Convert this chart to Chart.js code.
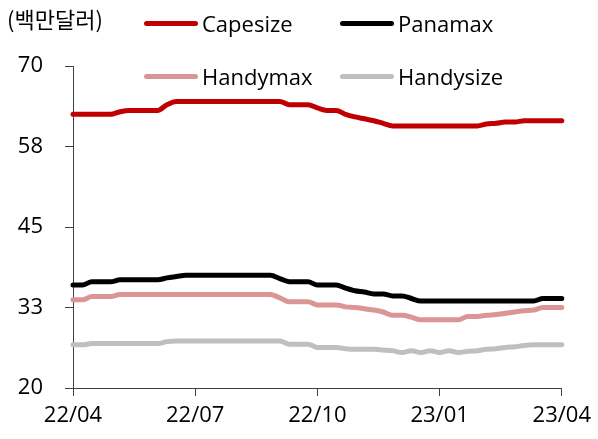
<!DOCTYPE html>
<html>
<head>
<meta charset="utf-8">
<script src="https://cdn.jsdelivr.net/npm/chart.js@4"></script>
<style>
  html, body { margin: 0; padding: 0; background: #fff; }
  #wrap { position: relative; width: 598px; height: 439px; font-family: 'Open Sans', 'Noto Sans CJK KR', sans-serif; color: #000; }
  #unit { position: absolute; left: 7px; top: 5px; font-size: 22px; line-height: 26px; font-family: 'Noto Sans CJK KR', sans-serif; }
  .lg { position: absolute; height: 26px; font-size: 22px; line-height: 26px; white-space: nowrap; }
  .lg .sw { position: absolute; left: 0; top: 11px; width: 54px; height: 5px; border-radius: 3px; }
  .lg .tx { position: absolute; left: 58px; top: 0; }
</style>
</head>
<body>
<div id="wrap">
  <canvas id="c" width="598" height="439"></canvas>
  <div id="unit">(백만달러)</div>
</div>
<script>
// weekly points, 22/04 .. 23/04 (index 0..52)
var tickLabels = ['22/04', '22/07', '22/10', '23/01', '23/04'];
var seriesNames = ['Capesize', 'Panamax', 'Handymax', 'Handysize'];
var seriesColors = ['#c00000', '#000000', '#da9694', '#bfbfbf'];

var capesize = [62.5, 62.5, 62.5, 62.5, 62.5, 62.9, 63.1, 63.1, 63.1, 63.1,
    64.0, 64.5, 64.5, 64.5, 64.5, 64.5, 64.5, 64.5, 64.5, 64.5,
    64.5, 64.5, 64.5, 64.0, 64.0, 64.0, 63.5, 63.1, 63.1, 62.5,
    62.1, 61.8, 61.5, 61.1, 60.7, 60.7, 60.7, 60.7, 60.7, 60.7,
    60.7, 60.7, 60.7, 60.7, 61.0, 61.1, 61.3, 61.3, 61.5, 61.5,
    61.5, 61.5, 61.5];
var panamax = [36.0, 36.0, 36.5, 36.5, 36.5, 36.8, 36.8, 36.8, 36.8, 36.8,
    37.1, 37.3, 37.5, 37.5, 37.5, 37.5, 37.5, 37.5, 37.5, 37.5,
    37.5, 37.5, 37.0, 36.5, 36.5, 36.5, 36.0, 36.0, 36.0, 35.5,
    35.1, 34.9, 34.6, 34.6, 34.3, 34.3, 33.9, 33.5, 33.5, 33.5,
    33.5, 33.5, 33.5, 33.5, 33.5, 33.5, 33.5, 33.5, 33.5, 33.5,
    33.9, 33.9, 33.9];
var handymax = [33.7, 33.7, 34.2, 34.2, 34.2, 34.5, 34.5, 34.5, 34.5, 34.5,
    34.5, 34.5, 34.5, 34.5, 34.5, 34.5, 34.5, 34.5, 34.5, 34.5,
    34.5, 34.5, 34.0, 33.4, 33.4, 33.4, 32.9, 32.9, 32.9, 32.6,
    32.5, 32.3, 32.1, 31.8, 31.3, 31.3, 31.0, 30.6, 30.6, 30.6,
    30.6, 30.6, 31.1, 31.1, 31.3, 31.4, 31.6, 31.8, 32.0, 32.1,
    32.5, 32.5, 32.5];
var handysize = [26.7, 26.7, 26.9, 26.9, 26.9, 26.9, 26.9, 26.9, 26.9, 26.9,
    27.2, 27.3, 27.3, 27.3, 27.3, 27.3, 27.3, 27.3, 27.3, 27.3,
    27.3, 27.3, 27.3, 26.8, 26.8, 26.8, 26.3, 26.3, 26.3, 26.1,
    26.0, 26.0, 26.0, 25.9, 25.8, 25.5, 25.8, 25.5, 25.8, 25.5,
    25.8, 25.5, 25.7, 25.8, 26.0, 26.1, 26.3, 26.4, 26.6, 26.7,
    26.7, 26.7, 26.7];

var seriesValues = [capesize, panamax, handymax, handysize];

// legend spots (left, top) for each series
var legendPos = [[144, 10], [340, 10], [144, 63], [340, 63]];

var wrap = document.getElementById('wrap');
seriesNames.forEach(function (name, i) {
    var d = document.createElement('div');
    d.className = 'lg';
    d.style.left = legendPos[i][0] + 'px';
    d.style.top = legendPos[i][1] + 'px';
    d.innerHTML = '<span class="sw" style="background:' + seriesColors[i] + '"></span><span class="tx">' + name + '</span>';
    wrap.appendChild(d);
});

var axisColor = '#404040';
var tickFont = { family: "'Open Sans', sans-serif", size: 22 };

new Chart(document.getElementById('c'), {
    type: 'line',
    data: {
        datasets: seriesNames.map(function (name, i) {
            return {
                label: name,
                data: seriesValues[i].map(function (v, k) { return { x: k, y: v }; }),
                borderColor: seriesColors[i],
                borderWidth: 5,
                borderCapStyle: 'round',
                borderJoinStyle: 'round',
                pointRadius: 0,
                cubicInterpolationMode: 'monotone',
                fill: false,
                clip: false
            };
        })
    },
    options: {
        responsive: false,
        animation: false,
        events: [],
        layout: { padding: { top: 66, right: 34, left: 0, bottom: 0 } },
        plugins: { legend: { display: false }, tooltip: { enabled: false } },
        scales: {
            x: {
                type: 'linear',
                min: 0,
                max: 52,
                afterFit: function (s) { s.height = 51; },
                grid: { drawOnChartArea: false, drawTicks: true, tickLength: 8, color: axisColor },
                border: { display: true, color: axisColor, width: 1 },
                ticks: {
                    stepSize: 13,
                    autoSkip: false,
                    maxRotation: 0,
                    padding: 7,
                    color: '#000',
                    font: tickFont,
                    callback: function (v) { return tickLabels[v / 13]; }
                }
            },
            y: {
                min: 20,
                max: 70,
                afterFit: function (s) { s.width = 73; },
                grid: { drawOnChartArea: false, drawTicks: true, tickLength: 8, color: axisColor },
                border: { display: true, color: axisColor, width: 1 },
                ticks: {
                    stepSize: 12.5,
                    padding: 22,
                    color: '#000',
                    font: tickFont,
                    callback: function (v) { return Math.round(v); }
                }
            }
        }
    }
});
</script>
</body>
</html>
